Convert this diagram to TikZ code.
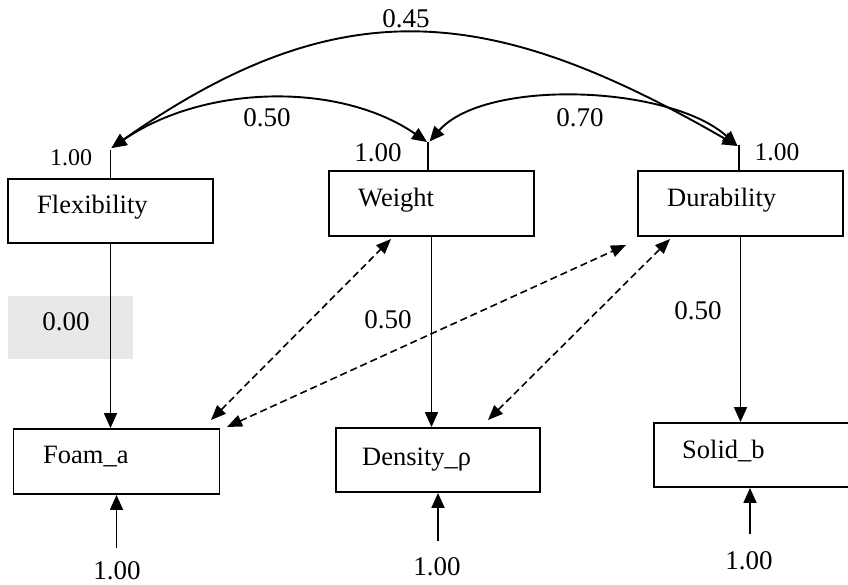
\documentclass[tikz,border=0pt]{standalone}
\usepackage{fontspec}
\setmainfont{Liberation Serif}
\usetikzlibrary{arrows.meta}
\definecolor{shade}{HTML}{E8E8E8}
\tikzset{
  box/.style={draw=black, line width=1.9pt, rectangle, inner sep=0pt},
  lbl/.style={anchor=base west, inner sep=0pt, font=\fontsize{26.5}{30}\selectfont},
  num/.style={anchor=base, inner sep=0pt, font=\fontsize{27}{30}\selectfont},
  conn/.style={line width=1.8pt, -{Triangle[length=15pt,width=13pt]}},
  bicurve/.style={line width=1.9pt, {Triangle[length=15pt,width=13pt]}-{Triangle[length=15pt,width=13pt]}},
  dashboth/.style={line width=1.6pt, dash pattern=on 7pt off 4pt, {Triangle[length=15pt,width=12pt]}-{Triangle[length=15pt,width=12pt]}},
  stub/.style={line width=1.8pt}
}
\begin{document}
\begin{tikzpicture}[x=1pt,y=-1pt]
\clip (0,0) rectangle (848,584);
\fill[white] (0,0) rectangle (848,584);

% shaded label box
\node[fill=shade, minimum width=125pt, minimum height=63pt, inner sep=0pt] (shadebox) at (70.5,327.5) {};

% boxes
\node[box, minimum width=205pt, minimum height=64pt] (flex) at (110.5,211) {};
\node[box, minimum width=205pt, minimum height=65pt] (weight) at (431.5,203.5) {};
\node[box, minimum width=205pt, minimum height=65pt] (dura) at (740.5,203.5) {};
\node[box, minimum width=206pt, minimum height=65pt] (foam) at (116.5,461.5) {};
\node[box, minimum width=204pt, minimum height=64pt] (dens) at (438,460) {};
\node[box, minimum width=206pt, minimum height=64pt] (solid) at (757,455) {};

% box labels
\node[lbl] (tflex) at (37,213) {Flexibility};
\node[lbl] (tweight) at (358,206) {Weight};
\node[lbl] (tdura) at (667,206) {Durability};
\node[lbl] (tfoam) at (43,463) {Foam\_a};
\node[lbl] (tdens) at (362,465) {Density\_ρ};
\node[lbl] (tsolid) at (682,458) {Solid\_b};

% stubs above latent boxes
\coordinate (fT) at (110.5,150);
\coordinate (wT) at (428,142);
\coordinate (dT) at (739,145);
\draw[stub] (fT |- flex.north) -- (fT);
\draw[stub] (wT |- weight.north) -- (wT);
\draw[stub] (dT |- dura.north) -- (dT);

% arc end points
\coordinate (fA) at (111.5,148);
\coordinate (wA1) at (427,142);
\coordinate (wA2) at (429.5,141.5);
\coordinate (dA) at (737.5,146);

% covariance arcs
\draw[bicurve] (fA) .. controls (342,-14) and (493,5) .. (dA);
\draw[bicurve] (fA) .. controls (205,84) and (340,82) .. (wA1);
\draw[bicurve] (wA2) .. controls (485,78) and (670,85) .. (dA);

% arc labels
\node[num] (l045) at (406,27) {0.45};
\node[num] (l050a) at (267,126) {0.50};
\node[num] (l070) at (580,126) {0.70};
\node[num, font=\fontsize{24}{28}\selectfont] (l100f) at (71,165) {1.00};
\node[num] (l100w) at (378,161) {1.00};
\node[num, font=\fontsize{25.5}{28}\selectfont] (l100d) at (777,160) {1.00};

% loadings
\draw[conn] (flex.south) -- (flex.south |- foam.north);
\draw[conn] (weight.south) -- (weight.south |- dens.north);
\draw[conn] (dura.south) -- (dura.south |- solid.north);
\node[num] (l000) at (66,330) {0.00};
\node[num] (l050b) at (388,328) {0.50};
\node[num] (l050c) at (698,319) {0.50};

% dashed correlations
\coordinate (d1a) at (211,420);
\coordinate (d1b) at (391,239);
\coordinate (d2a) at (227,427);
\coordinate (d2b) at (626,245);
\coordinate (d3a) at (488,420);
\coordinate (d3b) at (670,239);
\draw[dashboth] (d1a) -- (d1b);
\draw[dashboth] (d2a) -- (d2b);
\draw[dashboth] (d3a) -- (d3b);

% error arrows
\coordinate (eF) at (116.5,548);
\coordinate (eD) at (438,541);
\coordinate (eS) at (750,534);
\draw[conn] (eF) -- (eF |- foam.south);
\draw[conn] (eD) -- (eD |- dens.south);
\draw[conn] (eS) -- (eS |- solid.south);
\node[num] (e1) at (117,579) {1.00};
\node[num] (e2) at (437,575) {1.00};
\node[num] (e3) at (749,569) {1.00};
\end{tikzpicture}
\end{document}
